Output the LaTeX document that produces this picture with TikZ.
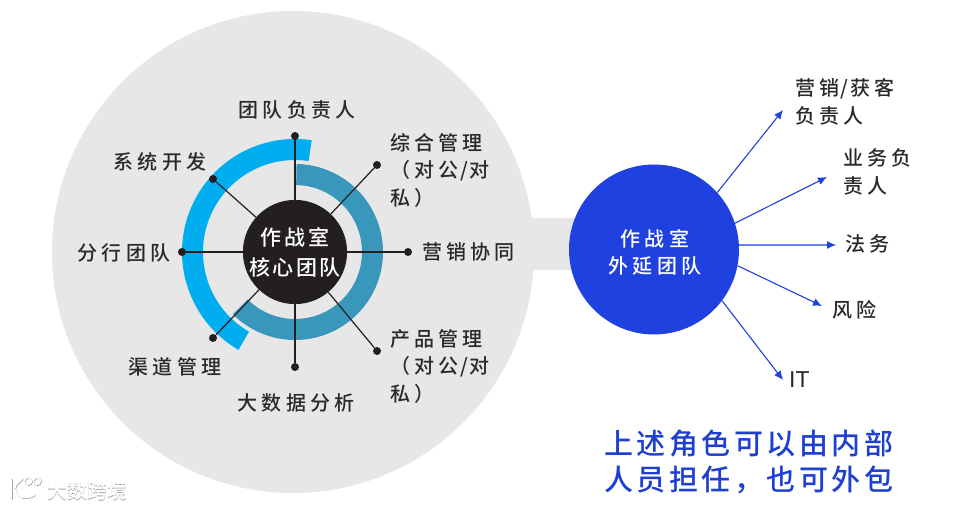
\documentclass[tikz,border=0pt]{standalone}
\usepackage{fontspec}
\setmainfont{Liberation Sans}
\newfontfamily\cjk[LetterSpace=21]{Noto Sans CJK SC Medium}
\newfontfamily\cjkc[LetterSpace=12]{Noto Sans CJK SC Medium}
\newfontfamily\cjkb[LetterSpace=12]{Noto Sans CJK SC Medium}
\newfontfamily\cjkw{Noto Sans CJK SC Medium}
\definecolor{bgdisc}{HTML}{E7E7E7}
\definecolor{skyarc}{HTML}{00ADEF}
\definecolor{tealarc}{HTML}{3A97BC}
\definecolor{corecol}{HTML}{231F20}
\definecolor{extblue}{HTML}{1F41E0}
\definecolor{txt}{HTML}{2A2A2A}
\definecolor{bluetxt}{HTML}{1E3FD0}
\newcommand{\tslash}{\kern1.5pt/\kern1.5pt}
\tikzset{
  x=1pt,y=1pt,
  spoke/.style={draw=corecol,line width=1.2pt},
  dotn/.style={circle,fill=corecol,inner sep=0pt,minimum size=8pt},
  lab/.style={inner sep=0pt,text=txt,font=\cjk\fontsize{20}{27.5}\selectfont,align=left},
  extlab/.style={inner sep=0pt,text=txt,font=\cjk\fontsize{20}{28}\selectfont,align=left},
  arr/.style={draw=extblue,line width=1.1pt,-{Latex[length=9pt,width=8pt]}},
  wm/.style={inner sep=0pt,font=\cjkw\fontsize{20}{22}\selectfont},
}
\usetikzlibrary{arrows.meta}
\begin{document}
\begin{tikzpicture}
\useasboundingbox (0,0) rectangle (973,509);
% background shapes
\fill[bgdisc] (293,257) circle[radius=241];
\fill[bgdisc] (525,291) rectangle (600,239);
\coordinate (c) at (295,257);
\fill[skyarc] ([shift={(81.5:113)}]c) arc[start angle=81.5,end angle=240,radius=113]
  -- ([shift={(240:92)}]c) arc[start angle=240,end angle=81.5,radius=92] -- cycle;
\fill[tealarc] ([shift={(89:88)}]c) arc[start angle=89,end angle=-135,radius=88]
  -- ([shift={(-135:67)}]c) arc[start angle=-135,end angle=89,radius=67] -- cycle;
% core and dots
\node[circle,fill=corecol,minimum size=104pt,inner sep=0pt,text=white,align=center,
  font=\cjkc\fontsize{21}{30}\selectfont] (core) at (c) {作战室\\核心团队};
\node[dotn] (d1) at (295,373) {};
\node[dotn] (d2) at (377,344) {};
\node[dotn] (d3) at (408,257) {};
\node[dotn] (d4) at (377,158) {};
\node[dotn] (d5) at (295,142) {};
\node[dotn] (d6) at (213,171) {};
\node[dotn] (d7) at (182,257) {};
\node[dotn] (d8) at (213,330) {};
\foreach \i in {1,...,8} \draw[spoke] (core) -- (d\i);
% labels
\node[lab,anchor=center] (l1) at (297,399) {团队负责人};
\node[lab,anchor=west] (l2) at (390,339) {综合管理\\（对公\tslash 对\\私）};
\node[lab,anchor=west] (l3) at (422,257) {营销协同};
\node[lab,anchor=west] (l4) at (390,143) {产品管理\\（对公\tslash 对\\私）};
\node[lab,anchor=center] (l5) at (296,106) {大数据分析};
\node[lab,anchor=center] (l6) at (175,142) {渠道管理};
\node[lab,anchor=center] (l7) at (124,256) {分行团队};
\node[lab,anchor=center] (l8) at (160,347) {系统开发};
% extension
\node[circle,fill=extblue,minimum size=170pt,inner sep=0pt] (ext) at (654,259.5) {};
\node[inner sep=0pt,text=white,align=center,font=\cjk\fontsize{20}{27}\selectfont] (extt) at (655,257) {作战室\\外延团队};
\coordinate (t1) at (783,399);
\coordinate (t2) at (827,332);
\coordinate (t3) at (836,264);
\coordinate (t4) at (822,203);
\coordinate (t5) at (783,129);
\draw[arr] (ext.42) -- (t1);
\draw[arr] (ext.18.6) -- (t2);
\draw[arr] (ext.3) -- (t3);
\draw[arr] (ext.-11.4) -- (t4);
\draw[arr] (ext.-37) -- (t5);
\node[extlab,anchor=west] (e1) at (795,407) {营销\tslash 获客\\负责人};
\node[extlab,anchor=west] (e2) at (843,337) {业务负\\责人};
\node[extlab,anchor=west] (e3) at (845,265) {法务};
\node[extlab,anchor=west] (e4) at (832,199) {风险};
\node[inner sep=0pt,anchor=west,text=txt,font=\fontsize{23}{26}\selectfont] (e5) at (789,129) {IT};
\node[inner sep=0pt,anchor=west,align=left,text=bluetxt,
  font=\cjkb\fontsize{29}{36}\selectfont] (note) at (604,47) {上述角色可以由内部\\人员担任，也可外包};
% watermark
\node[wm,anchor=west,text=black!35] (wms) at (47.7,17.3) {大数跨境};
\node[wm,anchor=west,text=white] (wmt) at (47,18) {大数跨境};
\foreach \col/\dx/\dy in {black!35/.7/-.7,white/0/0}{
  \begin{scope}[shift={(\dx,\dy)}]
  \draw[\col,line width=2pt,line cap=round] (11,30) -- (11,11);
  \draw[\col,line width=2pt,line cap=round] (22,30) .. controls (15,25) and (13,21) .. (15,18) .. controls (18,11) and (26,10) .. (34,14);
  \draw[\col,line width=1.3pt] (28,28) circle[radius=3.6];
  \draw[\col,line width=1.3pt] (37,28) circle[radius=3.6];
  \end{scope}
}
\end{tikzpicture}
\end{document}
